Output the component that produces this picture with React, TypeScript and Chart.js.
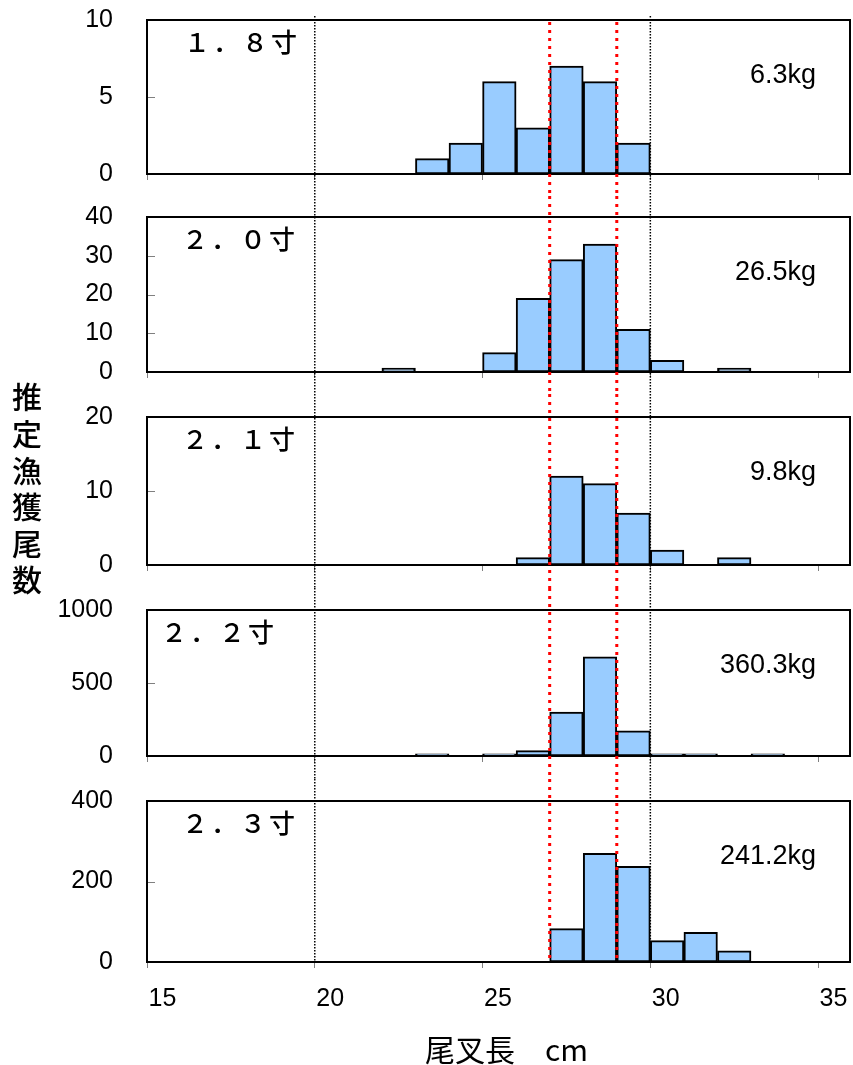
import React, { useEffect, useRef } from "react";
import { Chart, registerables } from "chart.js";

Chart.register(...registerables);

// ---- data ----
const binStarts = [15, 16, 17, 18, 19, 20, 21, 22, 23, 24, 25, 26, 27, 28, 29, 30, 31, 32, 33, 34, 35];
const counts18 = [0, 0, 0, 0, 0, 0, 0, 0, 1, 2, 6, 3, 7, 6, 2, 0, 0, 0, 0, 0, 0];
const counts20 = [0, 0, 0, 0, 0, 0, 0, 1, 0, 0, 5, 19, 29, 33, 11, 3, 0, 1, 0, 0, 0];
const counts21 = [0, 0, 0, 0, 0, 0, 0, 0, 0, 0, 0, 1, 12, 11, 7, 2, 0, 1, 0, 0, 0];
const counts22 = [0, 0, 0, 0, 0, 0, 0, 0, 15, 0, 15, 37, 301, 680, 173, 15, 15, 0, 15, 0, 0];
const counts23 = [0, 0, 0, 0, 0, 0, 0, 0, 0, 0, 0, 0, 83, 270, 238, 53, 74, 28, 0, 0, 0];
const panelLabels = ["１．８寸", "２．０寸", "２．１寸", "２．２寸", "２．３寸"];
const weightLabels = ["6.3kg", "26.5kg", "9.8kg", "360.3kg", "241.2kg"];
const yMaxes = [10, 40, 20, 1000, 400];
const ySteps = [5, 10, 10, 500, 200];
const xTickValues = [15, 20, 25, 30, 35];
const blackRefLines = [20, 30];
const redRefLines = [27, 29];
const X_MIN = 15;
const X_MAX = 35.95;
const yTitle = "推定漁獲尾数";
const xTitle = "尾叉長　cm";

const allCounts = [counts18, counts20, counts21, counts22, counts23];

// ---- layout ----
const PAGE_W = 853;
const panelLayout = [
  { top: 0, height: 196, padTop: 20, axisH: 22, labelX: 197 },
  { top: 196, height: 198, padTop: 21, axisH: 22, labelX: 195 },
  { top: 394, height: 194, padTop: 23, axisH: 23, labelX: 195 },
  { top: 588, height: 191, padTop: 22, axisH: 23, labelX: 174 },
  { top: 779, height: 286, padTop: 22, axisH: 103, labelX: 195 },
];

const NUM_FONT = "'Liberation Sans', Arial, sans-serif";
const JP_FONT = "'Noto Sans CJK JP', 'Noto Sans CJK SC', sans-serif";

function makeDeco(i: number) {
  return {
    id: "deco" + i,
    afterDatasetsDraw(chart: any) {
      const { ctx, chartArea: a, scales } = chart;
      const x = scales.x;
      const y = scales.y;
      ctx.save();
      // inward y ticks
      ctx.strokeStyle = "#808080";
      ctx.lineWidth = 1;
      y.ticks.forEach((t: any) => {
        const py = Math.round(y.getPixelForValue(t.value)) + 0.5;
        ctx.beginPath();
        ctx.moveTo(a.left, py);
        ctx.lineTo(a.left + 8, py);
        ctx.stroke();
      });
      // box
      ctx.strokeStyle = "#000";
      ctx.lineWidth = 2;
      ctx.setLineDash([]);
      ctx.strokeRect(a.left, a.top, a.right - a.left, a.bottom - a.top);
      // reference lines
      const y0 = i === 0 ? a.top - 4 : 0;
      const y1 = i === 4 ? a.bottom : chart.height;
      ctx.strokeStyle = "#000";
      ctx.lineWidth = 1.5;
      ctx.setLineDash([1.5, 1.5]);
      blackRefLines.forEach((v) => {
        const px = x.getPixelForValue(v);
        ctx.beginPath();
        ctx.moveTo(px, y0);
        ctx.lineTo(px, y1);
        ctx.stroke();
      });
      ctx.strokeStyle = "#FF0000";
      ctx.lineWidth = 3;
      ctx.setLineDash([3, 5]);
      redRefLines.forEach((v) => {
        const px = x.getPixelForValue(v);
        ctx.beginPath();
        ctx.moveTo(px, i === 0 ? a.top + 2 : y0);
        ctx.lineTo(px, y1);
        ctx.stroke();
      });
      ctx.setLineDash([]);
      // texts
      ctx.fillStyle = "#000";
      ctx.textBaseline = "middle";
      ctx.textAlign = "center";
      ctx.font = `500 26px ${JP_FONT}`;
      const chars = Array.from(panelLabels[i]);
      chars.forEach((c, k) => {
        ctx.fillText(c, panelLayout[i].labelX + k * 29, a.top + 22);
      });
      ctx.textAlign = "right";
      ctx.font = `27px ${NUM_FONT}`;
      ctx.fillText(weightLabels[i], 816, a.top + 56);
      ctx.restore();
    },
  };
}

function Panel({ i }: { i: number }) {
  const ref = useRef<HTMLCanvasElement | null>(null);
  const L = panelLayout[i];
  useEffect(() => {
    if (!ref.current) return;
    const counts = allCounts[i];
    const data = binStarts
      .map((s, k) => ({ x: s + 0.5, y: counts[k] }))
      .filter((d) => d.y > 0);
    const isLast = i === 4;
    const chart = new Chart(ref.current, {
      type: "bar",
      data: {
        datasets: [
          {
            data: data as any,
            backgroundColor: "#99CCFF",
            borderColor: "#000000",
            borderWidth: 2,
            borderSkipped: false,
            barPercentage: 1,
            categoryPercentage: 1,
          },
        ],
      },
      options: {
        animation: false,
        responsive: false,
        events: [],
        layout: { padding: { top: L.padTop, right: 3, left: 0, bottom: 0 } },
        plugins: { legend: { display: false }, tooltip: { enabled: false }, title: { display: false } },
        scales: {
          x: {
            type: "linear",
            min: X_MIN,
            max: X_MAX,
            offset: false,
            afterBuildTicks: (s: any) => {
              s.ticks = xTickValues.map((v) => ({ value: v }));
            },
            afterFit: (s: any) => {
              s.height = L.axisH;
              s.paddingLeft = 0;
              s.paddingRight = 0;
            },
            grid: {
              display: true,
              drawOnChartArea: false,
              drawTicks: true,
              tickLength: 6,
              color: "#808080",
              lineWidth: 1,
              offset: false,
            },
            border: { display: false },
            ticks: {
              display: isLast,
              autoSkip: false,
              maxRotation: 0,
              minRotation: 0,
              align: "start",
              labelOffset: 1.5,
              padding: 16,
              color: "#000",
              font: { family: NUM_FONT, size: 25 },
              callback: (v: any) => String(v),
            },
          },
          y: {
            type: "linear",
            min: 0,
            max: yMaxes[i],
            afterFit: (s: any) => {
              s.width = 147;
              s.paddingTop = 0;
              s.paddingBottom = 0;
            },
            grid: { display: false, drawTicks: false },
            border: { display: false },
            ticks: {
              stepSize: ySteps[i],
              padding: 34,
              color: "#000",
              font: { family: NUM_FONT, size: 25 },
              callback: (v: any) => String(v),
            },
          },
        },
      },
      plugins: [makeDeco(i)],
    });
    return () => chart.destroy();
  }, [i]);
  return (
    <canvas
      ref={ref}
      width={PAGE_W}
      height={L.height}
      style={{ position: "absolute", left: 0, top: L.top, width: PAGE_W, height: L.height }}
    />
  );
}

export default function App() {
  return (
    <div style={{ position: "absolute", left: 0, top: 0, width: PAGE_W, height: 1065, background: "#fff" }}>
      {panelLayout.map((_, i) => (
        <Panel key={i} i={i} />
      ))}
      <div
        style={{
          position: "absolute",
          left: 12,
          top: 382,
          writingMode: "vertical-rl",
          fontFamily: JP_FONT,
          fontSize: 30,
          fontWeight: 500,
          lineHeight: "30px",
          letterSpacing: "6.6px",
          color: "#000",
        }}
      >
        {yTitle}
      </div>
      <div
        style={{
          position: "absolute",
          left: 425,
          top: 1033,
          fontFamily: JP_FONT,
          fontSize: 30,
          lineHeight: "30px",
          color: "#000",
          whiteSpace: "pre",
        }}
      >
        {xTitle}
      </div>
    </div>
  );
}
